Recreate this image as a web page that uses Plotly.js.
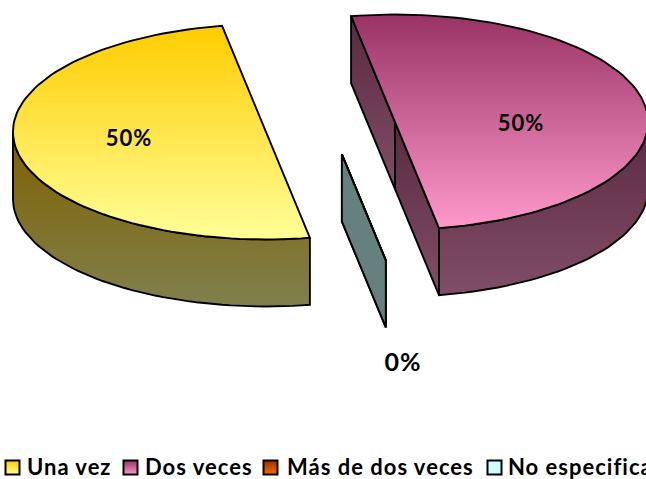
<!DOCTYPE html>
<html>
<head>
<meta charset="utf-8">
<script src="https://cdn.plot.ly/plotly-3.0.1.min.js"></script>
<style>
html,body{margin:0;padding:0;background:#fff;overflow:hidden}
.textpoint text{letter-spacing:1px}
</style>
</head>
<body>
<div id="chart" style="width:646px;height:479px"></div>
<script>
// Data
const categories = ['Una vez', 'Dos veces', 'Más de dos veces', 'No especifica'];
const values = [50, 50, 0, 0];
const labelShown = [true, true, true, false];

// Style
const topFrom  = ['#FFCC00', '#993366', '#993300', '#CCFFFF'];
const topTo    = ['#FFFF99', '#FF99CC', '#FF6600', '#CCFFFF'];
const wallFrom = ['#806000', '#5A2A42', '#4D1A00', '#668080'];
const wallTo   = ['#80804D', '#804E66', '#803300', '#668080'];
const labelAt  = [[129, 140], [521, 125], [403, 365], [403, 365]];
const labelSize = [22, 22, 25, 25];
const legendMarkX = [12.5, 130.5, 270.5, 494.5];
const legendTextX = [27, 145, 287, 508];
const legendMarkY = 467.5;
const legendTextY = 469;

// 3D projection of the pie
const centre = [330.5, 127], rx = 253, ry = 107.6, depth = 67, explode = 0.259, firstAngle = 170;

const rad = d => d * Math.PI / 180;
const pt = (c, a, dz) => [c[0] + rx * Math.sin(rad(a)), c[1] - ry * Math.cos(rad(a)) + (dz || 0)];

function poly(points, c0, c1, extra) {
  const ys = points.map(p => p[1]);
  const closed = points.concat([points[0]]);
  return Object.assign({
    type: 'scatter', mode: 'lines', hoverinfo: 'skip', showlegend: false,
    x: closed.map(p => p[0]), y: closed.map(p => p[1]),
    line: {color: '#000', width: 1.9, shape: 'linear'},
    fill: 'toself',
    fillgradient: {type: 'vertical', colorscale: [[0, c0], [1, c1]],
                   start: Math.min(...ys), stop: Math.max(...ys)}
  }, extra || {});
}
function arc(c, a0, a1, dz) {
  const out = [], n = Math.max(1, Math.ceil(Math.abs(a1 - a0) / 2));
  for (let i = 0; i <= n; i++) out.push(pt(c, a0 + (a1 - a0) * i / n, dz));
  return out;
}

const total = values.reduce((s, v) => s + v, 0);
const traces = [];
let angle = firstAngle;
values.forEach((v, i) => {
  const a0 = angle, a1 = angle + 360 * v / total;
  angle = a1;
  const mid = rad((a0 + a1) / 2);
  const c = [centre[0] + explode * rx * Math.sin(mid), centre[1] - explode * ry * Math.cos(mid)];
  const base = [c[0], c[1] + depth];

  // radial cut faces, when they face the viewer
  if (Math.cos(rad(a0 - 90)) < 0) {
    traces.push(poly([c, pt(c, a0), pt(c, a0, depth), base], wallFrom[i], wallTo[i]));
  }
  if (Math.cos(rad(a1 + 90)) < 0) {
    traces.push(poly([c, pt(c, a1), pt(c, a1, depth), base], wallFrom[i], wallTo[i]));
  }
  // outer wall: the part of the rim on the near side (90..270 degrees)
  for (const k of [0, 360]) {
    const s = Math.max(a0, 90 + k), e = Math.min(a1, 270 + k);
    if (e > s) {
      traces.push(poly(arc(c, s, e).concat(arc(c, e, s, depth)), wallFrom[i], wallTo[i]));
    }
  }
  // top face
  traces.push(poly([c].concat(arc(c, a0, a1)), topFrom[i], topTo[i]));
});

// Data labels
const labelIdx = values.map((v, i) => i).filter(i => labelShown[i]);
traces.push({
  type: 'scatter', mode: 'text', hoverinfo: 'skip', showlegend: false, cliponaxis: false,
  x: labelIdx.map(i => labelAt[i][0]), y: labelIdx.map(i => labelAt[i][1]),
  text: labelIdx.map(i => Math.round(100 * values[i] / total) + '%'),
  textposition: 'middle center',
  textfont: {family: 'Lato', size: labelIdx.map(i => labelSize[i]), color: '#000', weight: 700}
});

// Legend row
categories.forEach((name, i) => {
  traces.push({
    type: 'scatter', mode: 'markers', hoverinfo: 'skip', showlegend: false, cliponaxis: false,
    x: [legendMarkX[i]], y: [legendMarkY],
    marker: {symbol: 'square', size: 14, color: topFrom[i],
             gradient: {type: 'vertical', color: topTo[i]},
             line: {color: '#000', width: 2}}
  });
});
traces.push({
  type: 'scatter', mode: 'text', hoverinfo: 'skip', showlegend: false, cliponaxis: false,
  x: legendTextX, y: categories.map(() => legendTextY), text: categories,
  textposition: 'middle right',
  textfont: {family: 'Lato', size: 22, color: '#000', weight: 700}
});

const hidden = {visible: false, fixedrange: true};
Plotly.newPlot('chart', traces, {
  width: 646, height: 479,
  margin: {l: 0, r: 0, t: 0, b: 0},
  paper_bgcolor: '#fff', plot_bgcolor: '#fff',
  showlegend: false,
  xaxis: Object.assign({range: [0, 646]}, hidden),
  yaxis: Object.assign({range: [479, 0]}, hidden)
}, {staticPlot: true, displayModeBar: false});
</script>
</body>
</html>
